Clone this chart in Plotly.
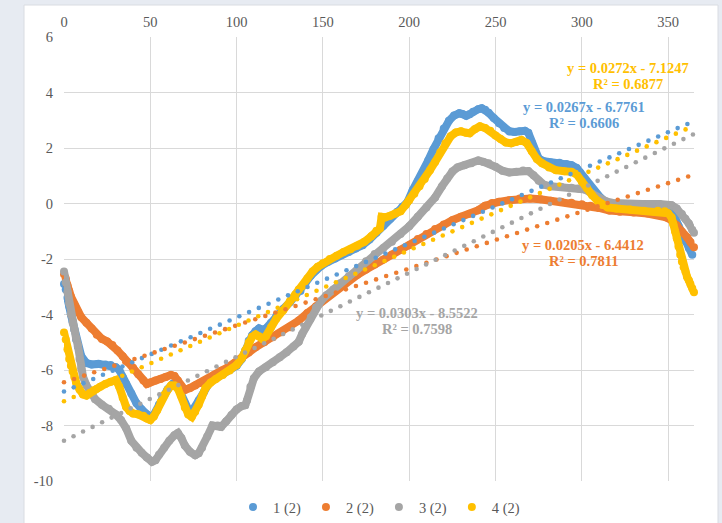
import numpy as np
import plotly.graph_objects as go

# ---- series data (day index, value) ----
s1_x = [0, 1, 2, 3, 4, 5, 6, 7, 8, 10, 13, 16, 20, 24, 27, 30, 32, 34, 36, 39, 42, 45, 48, 50, 52, 55, 57,
        60, 63, 65, 67, 70, 72, 74, 76, 78, 81, 84, 88, 92, 96, 100, 103, 105, 107, 109, 111, 113, 115, 117,
        120, 123, 127, 131, 134, 137, 140, 143, 146, 149, 153, 157, 161, 165, 169, 173, 177, 181, 185, 189,
        193, 196, 199, 202, 205, 208, 211, 214, 217, 220, 223, 226, 229, 231, 233, 235, 237, 240, 242, 244,
        246, 249, 252, 255, 258, 261, 264, 267, 269, 271, 273, 275, 278, 282, 287, 291, 294, 297, 299, 301,
        303, 305, 308, 311, 314, 317, 320, 324, 330, 336, 342, 347, 350, 352, 354, 356, 358, 360, 362, 364]
s1_y = [-2.9, -3.1, -3.4, -3.7, -4.0, -4.25, -4.55, -4.9, -5.15, -5.5, -5.75, -5.8, -5.78, -5.8, -5.82, -5.9,
        -6.0, -6.25, -6.5, -6.85, -7.2, -7.42, -7.6, -7.7, -7.62, -7.25, -6.96, -6.7, -6.5, -6.52, -6.75, -7.2,
        -7.42, -7.5, -7.35, -7.1, -6.8, -6.48, -6.3, -6.15, -6.0, -5.85, -5.6, -5.3, -4.95, -4.75, -4.6, -4.5,
        -4.55, -4.5, -4.3, -4.05, -3.8, -3.55, -3.35, -3.15, -2.85, -2.6, -2.4, -2.25, -2.1, -1.98, -1.85,
        -1.75, -1.62, -1.5, -1.3, -1.05, -0.8, -0.55, -0.3, -0.12, 0.05, 0.48, 0.8, 1.1, 1.55, 1.95, 2.35, 2.7,
        2.98, 3.17, 3.25, 3.22, 3.16, 3.22, 3.31, 3.4, 3.43, 3.38, 3.27, 3.08, 2.89, 2.72, 2.6, 2.58, 2.6, 2.62,
        2.55, 2.2, 1.85, 1.62, 1.52, 1.48, 1.47, 1.42, 1.38, 1.28, 1.12, 0.95, 0.75, 0.58, 0.38, 0.2, 0.05,
        -0.03, -0.1, -0.14, -0.18, -0.2, -0.2, -0.2, -0.25, -0.35, -0.5, -0.8, -1.05, -1.35, -1.6, -1.85]

s2_x = [0, 1, 2, 3, 4, 6, 8, 10, 13, 16, 19, 22, 25, 28, 31, 34, 37, 40, 43, 46, 48, 50, 53, 56, 59, 62, 64,
        66, 68, 70, 73, 76, 79, 83, 87, 91, 95, 99, 103, 107, 111, 116, 121, 126, 131, 136, 141, 146, 150,
        155, 160, 165, 170, 175, 180, 185, 190, 195, 200, 205, 210, 215, 220, 225, 230, 235, 240, 244, 248,
        252, 258, 264, 270, 276, 282, 288, 294, 300, 305, 310, 316, 322, 330, 338, 345, 349, 352, 355, 358,
        361, 363, 365]
s2_y = [-2.55, -2.7, -2.95, -3.15, -3.35, -3.65, -3.9, -4.1, -4.3, -4.5, -4.73, -4.88, -4.97, -5.1, -5.3,
        -5.5, -5.72, -5.92, -6.15, -6.38, -6.5, -6.45, -6.38, -6.32, -6.25, -6.18, -6.22, -6.38, -6.6, -6.72,
        -6.65, -6.56, -6.47, -6.35, -6.18, -6.03, -5.9, -5.75, -5.56, -5.37, -5.18, -5.0, -4.82, -4.64, -4.46,
        -4.22, -3.95, -3.7, -3.49, -3.25, -3.0, -2.78, -2.57, -2.38, -2.2, -2.02, -1.84, -1.67, -1.5, -1.28,
        -1.1, -0.92, -0.76, -0.6, -0.48, -0.37, -0.24, -0.08, 0.02, 0.06, 0.12, 0.18, 0.18, 0.15, 0.1, 0.06,
        0.03, -0.03, -0.08, -0.16, -0.25, -0.3, -0.32, -0.36, -0.42, -0.5, -0.6, -0.78, -1.02, -1.22, -1.4, -1.58]

s3_x = [0, 1, 2, 3, 4, 5, 6, 7, 8, 9, 10, 11, 13, 15, 18, 22, 26, 30, 33, 36, 39, 42, 45, 48, 51, 53, 55, 58,
        61, 64, 66, 68, 70, 73, 76, 78, 80, 83, 86, 89, 91, 94, 97, 100, 103, 105, 106, 108, 110, 113, 117,
        121, 125, 129, 133, 136, 138, 140, 143, 146, 149, 152, 156, 160, 165, 170, 175, 180, 185, 190, 195,
        200, 205, 210, 215, 219, 222, 225, 228, 232, 236, 240, 243, 246, 250, 254, 258, 262, 266, 269, 272,
        275, 278, 282, 288, 294, 298, 302, 306, 310, 314, 318, 325, 335, 345, 352, 355, 358, 360, 362, 364, 365]
s3_y = [-2.45, -2.85, -3.2, -3.6, -4.0, -4.3, -4.55, -4.85, -5.1, -5.6, -5.95, -6.24, -6.55, -6.8, -7.05,
        -7.25, -7.4, -7.6, -7.8, -8.1, -8.55, -8.8, -8.98, -9.15, -9.31, -9.25, -9.05, -8.8, -8.55, -8.35,
        -8.27, -8.45, -8.72, -8.95, -9.07, -9.0, -8.8, -8.4, -8.0, -8.0, -8.05, -7.85, -7.62, -7.42, -7.3,
        -7.27, -7.1, -6.6, -6.3, -6.05, -5.9, -5.72, -5.54, -5.36, -5.15, -4.98, -4.7, -4.46, -4.1, -3.75,
        -3.5, -3.31, -3.1, -2.87, -2.62, -2.37, -2.08, -1.82, -1.6, -1.38, -1.1, -0.82, -0.48, -0.14, 0.22,
        0.62, 0.9, 1.15, 1.3, 1.38, 1.45, 1.55, 1.5, 1.45, 1.32, 1.18, 1.12, 1.14, 1.19, 1.17, 1.02, 0.82,
        0.68, 0.62, 0.6, 0.57, 0.54, 0.5, 0.35, 0.2, 0.08, 0.02, -0.02, -0.02, -0.02, -0.06, -0.18, -0.38,
        -0.55, -0.72, -0.95, -1.05]

s4_x = [0, 1, 2, 3, 4, 5, 6, 7, 9, 11, 13, 15, 17, 19, 21, 24, 27, 30, 32, 34, 36, 38, 40, 43, 46, 48, 50,
        52, 54, 56, 58, 60, 62, 64, 66, 68, 70, 72, 74, 76, 78, 80, 82, 85, 88, 92, 96, 100, 103, 105, 107,
        109, 111, 113, 115, 117, 120, 123, 127, 131, 134, 136, 138, 141, 144, 147, 150, 154, 158, 162, 166,
        170, 174, 178, 181, 183, 184, 186, 189, 192, 195, 198, 200, 203, 206, 209, 212, 215, 218, 221, 224,
        227, 230, 233, 235, 238, 241, 244, 247, 250, 253, 256, 259, 262, 265, 268, 271, 274, 277, 281, 285,
        290, 294, 297, 300, 303, 306, 309, 312, 315, 320, 328, 336, 344, 348, 350, 352, 353, 354, 355, 356,
        357, 358, 359, 360, 361, 362, 363, 364, 365]
s4_y = [-4.65, -4.9, -5.25, -5.6, -5.85, -6.05, -6.25, -6.45, -6.7, -6.88, -6.92, -6.82, -6.75, -6.68, -6.6,
        -6.5, -6.42, -6.36, -6.6, -7.0, -7.33, -7.48, -7.57, -7.6, -7.65, -7.75, -7.8, -7.68, -7.45, -7.15,
        -6.9, -6.72, -6.56, -6.56, -6.68, -6.95, -7.35, -7.6, -7.69, -7.5, -7.25, -6.95, -6.65, -6.45, -6.32,
        -6.18, -6.02, -5.82, -5.58, -5.3, -5.0, -4.8, -4.72, -4.78, -4.88, -4.78, -4.45, -4.15, -3.85, -3.5,
        -3.28, -3.1, -2.98, -2.7, -2.45, -2.28, -2.15, -2.0, -1.88, -1.75, -1.65, -1.52, -1.38, -1.18, -0.98,
        -0.9, -0.48, -0.5, -0.44, -0.36, -0.28, -0.05, 0.12, 0.35, 0.62, 0.88, 1.2, 1.5, 1.85, 2.17, 2.42,
        2.56, 2.6, 2.55, 2.53, 2.68, 2.78, 2.72, 2.62, 2.45, 2.32, 2.2, 2.17, 2.22, 2.29, 2.18, 1.88, 1.6,
        1.45, 1.3, 1.2, 1.16, 1.14, 1.05, 0.78, 0.55, 0.3, 0.1, -0.05, -0.14, -0.18, -0.22, -0.26, -0.26,
        -0.28, -0.35, -0.5, -0.75, -1.0, -1.25, -1.55, -1.85, -2.1, -2.3, -2.45, -2.65, -2.77, -2.92, -3.05,
        -3.2]

series_names = ["1 (2)", "2 (2)", "3 (2)", "4 (2)"]
series_x = [s1_x, s2_x, s3_x, s4_x]
series_y = [s1_y, s2_y, s3_y, s4_y]
colors = ["#5B9BD5", "#ED7D31", "#A5A5A5", "#FFC000"]

# axis ticks
x_ticks = [0, 50, 100, 150, 200, 250, 300, 350]
y_ticks = [-10, -8, -6, -4, -2, 0, 2, 4, 6]

# linear trendlines: slope, intercept, R squared
trend_slope = [0.0267, 0.0205, 0.0303, 0.0272]
trend_intercept = [-6.7761, -6.4412, -8.5522, -7.1247]
trend_r2 = [0.6606, 0.7811, 0.7598, 0.6877]

# label anchor points (data coords) for the trendline equations
label_x = [301.3, 300.7, 204.5, 326.8]
label_y = [3.48, -1.50, -3.95, 4.88]

X_MAX = 365
Y_MIN, Y_MAX = -10, 6
W, H = 722, 523
ML, MR, MT, MB = 64, 28, 37, 42
plot_w, plot_h = W - ML - MR, H - MT - MB
px_x = plot_w / X_MAX
px_y = plot_h / (Y_MAX - Y_MIN)

SERIF = "Liberation Serif"
TXT = "#595959"

fig = go.Figure()

for name, xs, ys, c in zip(series_names, series_x, series_y, colors):
    fig.add_trace(go.Scatter(x=xs, y=ys, mode="lines", line=dict(color=c, width=8),
                             showlegend=False, legendgroup=name, cliponaxis=False, hoverinfo="skip"))
    fig.add_trace(go.Scatter(x=xs, y=ys, mode="markers", name=name, legendgroup=name,
                             marker=dict(color=c, size=8), cliponaxis=False))

# dotted trendlines, dots evenly spaced along the line
for m, b, c, name in zip(trend_slope, trend_intercept, colors, series_names):
    step = 10.6 / np.hypot(px_x, m * px_y)
    tx = np.arange(0, X_MAX + 1e-9, step)
    fig.add_trace(go.Scatter(x=tx, y=m * tx + b, mode="markers", showlegend=False,
                             marker=dict(color=c, size=4.6), cliponaxis=False, hoverinfo="skip"))

for m, b, r2, c, lx, ly in zip(trend_slope, trend_intercept, trend_r2, colors, label_x, label_y):
    sign = "-" if b < 0 else "+"
    eq = f"y = {m}x {sign} {abs(b):.4f}"
    fig.add_annotation(x=lx, y=ly, text=eq, showarrow=False, xanchor="center", yanchor="middle",
                       font=dict(family=SERIF, size=14.5, color=c, weight="bold"))
    fig.add_annotation(x=lx, y=ly - 16 / px_y, text=f"R² = {r2:.4f}", showarrow=False,
                       xanchor="center", yanchor="middle",
                       font=dict(family=SERIF, size=14.5, color=c, weight="bold"))

# white chart area over the light backdrop
fig.add_shape(type="rect", xref="paper", yref="paper", layer="below",
              x0=(24 - ML) / plot_w, x1=(718 - ML) / plot_w,
              y0=-MB / plot_h - 0.01, y1=(H - MB - 5) / plot_h,
              fillcolor="white", line=dict(color="#d9dce2", width=1))

fig.update_layout(
    width=W, height=H,
    margin=dict(l=ML, r=MR, t=MT, b=MB, autoexpand=False),
    paper_bgcolor="#e7ebf2",
    plot_bgcolor="white",
    font=dict(family=SERIF, size=14.5, color=TXT),
    xaxis=dict(range=[0, X_MAX], side="top", tickvals=x_ticks, ticktext=[str(v) for v in x_ticks],
               showgrid=True, gridcolor="#d9d9d9",
               zeroline=False, showline=False, ticks="", ticklabelstandoff=6,
               tickfont=dict(family=SERIF, size=14.5, color=TXT)),
    yaxis=dict(range=[Y_MIN, Y_MAX], tickvals=y_ticks, ticktext=[str(v) for v in y_ticks],
               showgrid=True, gridcolor="#d9d9d9",
               zeroline=False, showline=False, ticks="", ticklabelstandoff=10,
               tickfont=dict(family=SERIF, size=14.5, color=TXT)),
    legend=dict(orientation="h", x=0.5, xanchor="center", yref="container", y=16 / H, yanchor="middle",
                font=dict(family=SERIF, size=14.5, color=TXT), itemwidth=30,
                bgcolor="rgba(0,0,0,0)"),
    showlegend=True,
)

fig.write_html("out.html")
